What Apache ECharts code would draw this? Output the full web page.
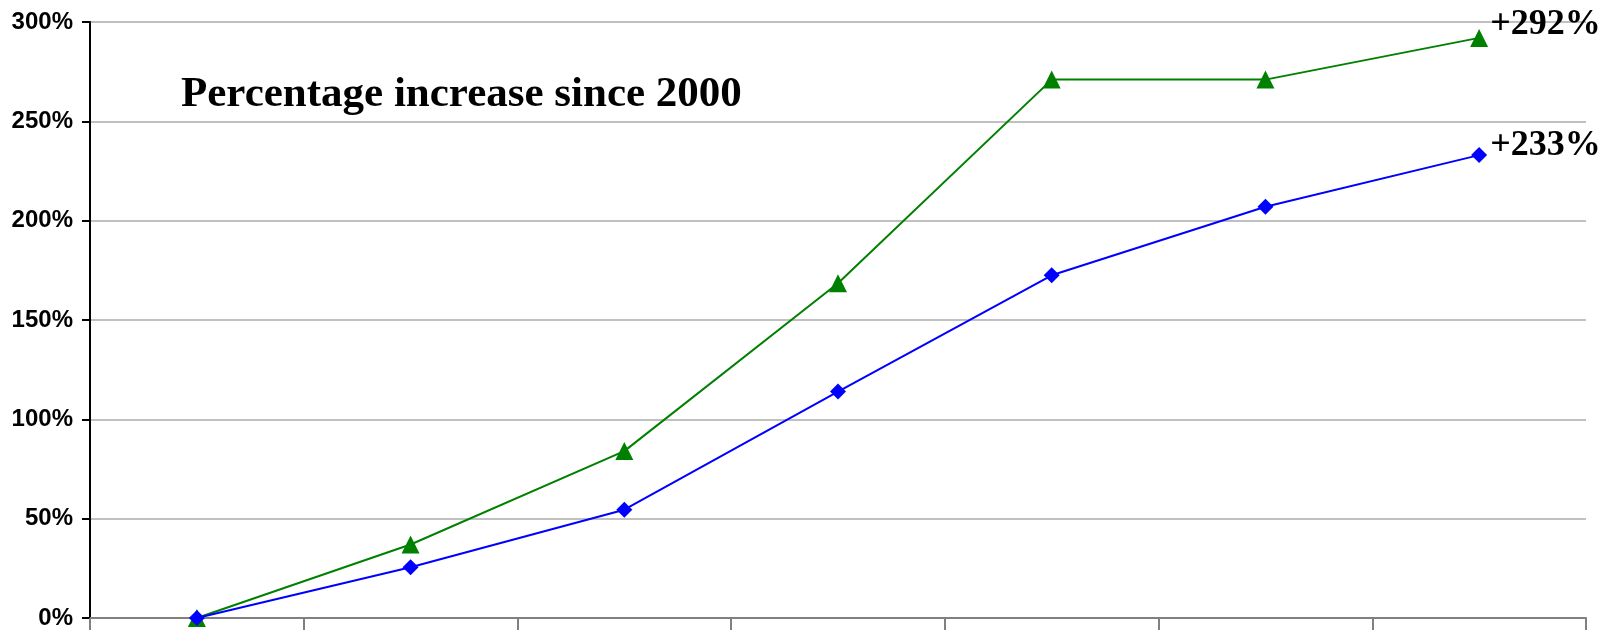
<!DOCTYPE html>
<html>
<head>
<meta charset="utf-8">
<style>
  html, body { margin: 0; padding: 0; background: #ffffff; }
  #chart { width: 1620px; height: 630px; }
</style>
<script src="https://cdn.jsdelivr.net/npm/echarts@6/dist/echarts.min.js"></script>
</head>
<body>
<div id="chart"></div>
<script>
// Years on the category axis (one point per year)
const years = ['2000', '2001', '2002', '2003', '2004', '2005', '2006'];
// Cumulative percentage increase since 2000 for each series
const greenSeries = [0, 37, 84, 168.5, 271, 271, 292];
const blueSeries = [0, 25.5, 54.5, 114, 172.5, 207, 233];
// Value-axis ticks
const yTicks = { min: 0, max: 300, step: 50 };
const titleText = 'Percentage increase since 2000';

const chart = echarts.init(document.getElementById('chart'), null, { renderer: 'canvas' });

function endLabel(offsetY, distance) {
  return {
    show: true,
    position: 'right',
    distance: distance,
    offset: [0, offsetY],
    formatter: function (p) {
      return p.dataIndex === years.length - 1 ? '+' + p.value + '%' : '';
    },
    fontFamily: '"Liberation Serif", "Times New Roman", serif',
    fontWeight: 'bold',
    fontSize: 36,
    color: '#000000'
  };
}

chart.setOption({
  animation: false,
  backgroundColor: '#ffffff',
  title: {
    text: titleText,
    left: 181,
    top: 73,
    padding: 0,
    textStyle: {
      fontFamily: '"Liberation Serif", "Times New Roman", serif',
      fontWeight: 'bold',
      fontSize: 43,
      lineHeight: 43,
      color: '#000000'
    }
  },
  grid: { left: 90, right: 34, top: 22, bottom: 11, containLabel: false },
  xAxis: {
    type: 'category',
    data: years,
    boundaryGap: true,
    axisLine: { show: true, lineStyle: { color: '#808080', width: 2 } },
    axisTick: { show: true, inside: false, length: 14, lineStyle: { color: '#808080', width: 2 } },
    axisLabel: { show: false },
    splitLine: { show: false }
  },
  yAxis: {
    type: 'value',
    min: yTicks.min,
    max: yTicks.max,
    interval: yTicks.step,
    axisLine: { show: true, lineStyle: { color: '#000000', width: 2 } },
    axisTick: { show: true, length: 8, lineStyle: { color: '#000000', width: 2 } },
    axisLabel: {
      formatter: '{value}%',
      margin: 17,
      fontFamily: '"Liberation Sans", Arial, sans-serif',
      fontWeight: 'bold',
      fontSize: 24,
      color: '#000000'
    },
    splitLine: { show: true, lineStyle: { color: '#c0c0c0', width: 2 } }
  },
  series: [
    {
      name: 'green',
      type: 'line',
      data: greenSeries,
      symbol: 'triangle',
      symbolSize: 18,
      showAllSymbol: true,
      lineStyle: { color: '#008000', width: 2 },
      itemStyle: { color: '#008000' },
      label: endLabel(-13, 2),
      z: 3
    },
    {
      name: 'blue',
      type: 'line',
      data: blueSeries,
      symbol: 'diamond',
      symbolSize: 16,
      showAllSymbol: true,
      lineStyle: { color: '#0000ff', width: 2 },
      itemStyle: { color: '#0000ff' },
      label: endLabel(-9, 3),
      z: 4
    }
  ]
});
</script>
</body>
</html>
